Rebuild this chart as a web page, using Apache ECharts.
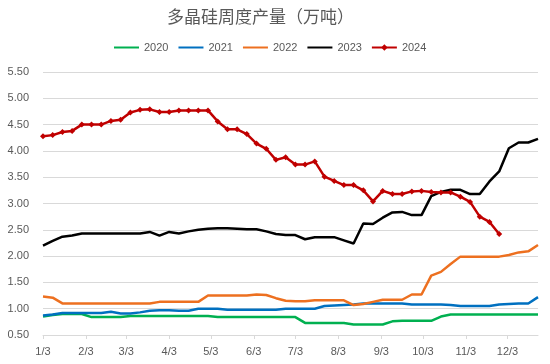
<!DOCTYPE html>
<html><head><meta charset="utf-8">
<script src="https://cdn.jsdelivr.net/npm/echarts@6/dist/echarts.min.js"></script>
<style>html,body{margin:0;padding:0;background:#fff}#c{width:550px;height:364px}</style>
</head><body><div id="c"></div>
<script>
// weekly values (one per week, first week = 1/3)
const s2020 = [0.85,0.88,0.90,0.90,0.90,0.84,0.84,0.84,0.84,0.86,0.86,0.86,0.86,0.86,0.86,0.86,0.86,0.86,0.84,0.84,0.84,0.84,0.84,0.84,0.84,0.84,0.84,0.73,0.73,0.73,0.73,0.73,0.70,0.70,0.70,0.70,0.76,0.77,0.77,0.77,0.77,0.85,0.89,0.89,0.89,0.89,0.89,0.89,0.89,0.89,0.89,0.89];
const s2021 = [0.87,0.89,0.92,0.92,0.92,0.92,0.92,0.94,0.91,0.91,0.93,0.96,0.97,0.97,0.96,0.96,1.00,1.00,1.00,0.98,0.98,0.98,0.98,0.98,0.98,1.00,1.00,1.00,1.00,1.05,1.06,1.07,1.08,1.10,1.10,1.10,1.10,1.10,1.08,1.08,1.08,1.08,1.07,1.05,1.05,1.05,1.05,1.08,1.09,1.10,1.10,1.22];
const s2022 = [1.23,1.21,1.10,1.10,1.10,1.10,1.10,1.10,1.10,1.10,1.10,1.10,1.13,1.13,1.13,1.13,1.13,1.25,1.25,1.25,1.25,1.25,1.27,1.26,1.20,1.15,1.14,1.14,1.16,1.16,1.16,1.16,1.07,1.09,1.13,1.17,1.17,1.17,1.27,1.27,1.63,1.70,1.85,1.99,1.99,1.99,1.99,1.99,2.02,2.07,2.09,2.21];
const s2023 = [2.20,2.29,2.37,2.39,2.43,2.43,2.43,2.43,2.43,2.43,2.43,2.46,2.39,2.46,2.43,2.47,2.50,2.52,2.53,2.53,2.52,2.51,2.51,2.47,2.42,2.40,2.40,2.32,2.36,2.36,2.36,2.30,2.24,2.62,2.61,2.73,2.83,2.84,2.78,2.78,3.14,3.22,3.26,3.26,3.18,3.18,3.42,3.61,4.05,4.16,4.16,4.23];
const s2024 = [4.28,4.30,4.36,4.38,4.50,4.50,4.50,4.57,4.59,4.73,4.78,4.79,4.74,4.74,4.77,4.77,4.77,4.77,4.56,4.41,4.41,4.32,4.14,4.04,3.83,3.88,3.74,3.74,3.80,3.51,3.43,3.35,3.35,3.25,3.04,3.24,3.18,3.18,3.23,3.24,3.22,3.21,3.21,3.13,3.03,2.75,2.65,2.42];
const seriesNames = ['2020','2021','2022','2023','2024'];
const colors = ['#00b050','#0070c0','#ed7020','#000000','#c00000'];
const yTicks = [0.5,1.0,1.5,2.0,2.5,3.0,3.5,4.0,4.5,5.0,5.5];

// daily category axis from 1/3 to 12/25
const monthDays = [31,29,31,30,31,30,31,31,30,31,30,31];
const days = [];
for (let m = 0; m < 12; m++) {
  for (let d = 1; d <= monthDays[m]; d++) {
    if (m === 0 && d < 3) continue;
    if (m === 11 && d > 25) continue;
    days.push((m + 1) + '/' + d);
  }
}
const toPts = arr => arr.map((v, i) => [days[i * 7], v]);
const all = [s2020, s2021, s2022, s2023, s2024];

const chart = echarts.init(document.getElementById('c'), null, {renderer: 'canvas'});
const font = 'Liberation Sans, Arial, sans-serif';
chart.setOption({
  animation: false,
  textStyle: {fontFamily: font},
  title: {
    text: '多晶硅周度产量（万吨）', left: 162, top: 3,
    textStyle: {fontFamily: 'Noto Sans CJK SC', fontSize: 17, fontWeight: 'normal', color: '#595959'}
  },
  legend: {
    data: seriesNames.map((n, k) => k === 4 ? {name: n} : {name: n, itemStyle: {opacity: 0}}),
    left: 113, top: 42, padding: 0, itemWidth: 25, itemHeight: 8, itemGap: 9,
    textStyle: {fontSize: 11, color: '#595959', fontFamily: font}
  },
  grid: {left: 43, right: 12, top: 72, bottom: 29},
  xAxis: {
    type: 'category', data: days, boundaryGap: false,
    axisLine: {lineStyle: {color: '#d9d9d9', width: 1}},
    axisTick: {show: true, length: 4, lineStyle: {color: '#d9d9d9'},
      interval: (i, v) => v.split('/')[1] === '3'},
    axisLabel: {color: '#595959', fontSize: 11, margin: 11,
      interval: (i, v) => v.split('/')[1] === '3'}
  },
  yAxis: {
    type: 'value', min: yTicks[0], max: yTicks[yTicks.length - 1], interval: 0.5,
    axisLine: {show: false}, axisTick: {show: false},
    splitLine: {lineStyle: {color: '#d9d9d9', width: 1}},
    axisLabel: {color: '#595959', fontSize: 11, margin: 14, formatter: v => v.toFixed(2)}
  },
  series: all.map((arr, k) => ({
    name: seriesNames[k], type: 'line', data: toPts(arr),
    symbol: k === 4 ? 'diamond' : 'none', symbolSize: 6, showSymbol: k === 4,
    showAllSymbol: true,
    lineStyle: {color: colors[k], width: 2.5},
    itemStyle: {color: colors[k]},
    z: k + 2
  }))
});
</script></body></html>
